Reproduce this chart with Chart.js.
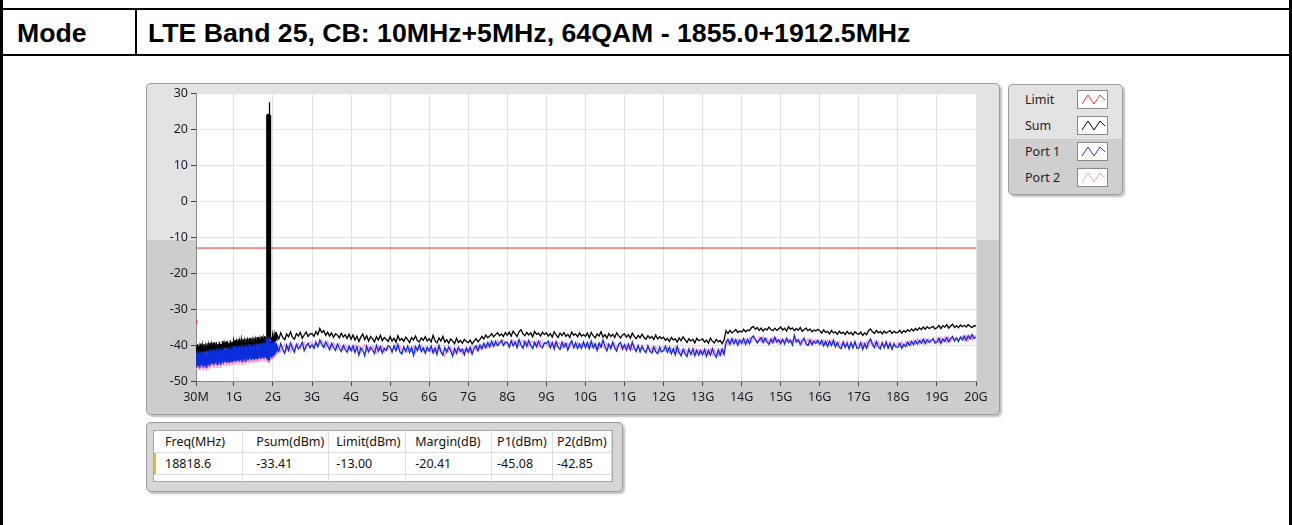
<!DOCTYPE html>
<html>
<head>
<meta charset="utf-8">
<script src="https://cdn.jsdelivr.net/npm/chart.js@4.4.1/dist/chart.umd.min.js"></script>
<style>
  body { margin: 0; width: 1292px; height: 525px; background: #fff; position: relative; overflow: hidden; font-family: "Noto Sans", sans-serif; }
  .line { position: absolute; background: #000; }
  .hdr { position: absolute; font-family: "Liberation Sans", Arial, sans-serif; font-weight: bold; font-size: 26.67px; line-height: 1; color: #000; }
  #panel { position: absolute; left: 146px; top: 83px; width: 854px; height: 332px; border-radius: 5px;
           background: linear-gradient(#e3e3e3 0, #e3e3e3 157px, #cdcdcd 157px, #cdcdcd 100%);
           box-shadow: inset 0 0 0 1px #9c9c9c, 2px 2px 2px rgba(0,0,0,0.25); }
  #panel canvas { position: absolute; left: 0; top: 0; }
  #legend { position: absolute; left: 1008px; top: 84px; width: 115px; height: 111px; border-radius: 5px;
            background: linear-gradient(#e3e3e3 0, #e3e3e3 55px, #cfcfcf 55px, #cfcfcf 100%);
            box-shadow: inset 0 0 0 1px #9c9c9c, 2px 2px 2px rgba(0,0,0,0.25); }
  .lg { position: absolute; left: 17px; font-size: 12.5px; line-height: 16px; color: #222; }
  .sw { position: absolute; left: 69px; width: 31px; height: 19px; background: #fff; border: 1px solid #8a8a8a; box-sizing: border-box; }
  #tpanel { position: absolute; left: 146px; top: 422px; width: 477px; height: 70px; border-radius: 5px; background: #d6d6d6;
            box-shadow: inset 0 0 0 1px #9c9c9c, 2px 2px 2px rgba(0,0,0,0.25); }
  #tbl { position: absolute; left: 7px; top: 8px; width: 460px; height: 52px; background: #fff; border: 1px solid #a8a8a8; box-sizing: border-box; overflow: hidden; }
  #tbl table { border-collapse: collapse; table-layout: fixed; font-size: 12.5px; color: #111; }
  #tbl td { border-right: 1px solid #ddd; border-bottom: 1px solid #ddd; height: 21px; padding: 0; white-space: nowrap; overflow: hidden; }
</style>
</head>
<body>
<!-- frame of the report table -->
<div class="line" style="left:0;top:0;width:3px;height:525px"></div>
<div class="line" style="left:1289px;top:0;width:3px;height:525px"></div>
<div class="line" style="left:0;top:8px;width:1292px;height:2px"></div>
<div class="line" style="left:0;top:54px;width:1292px;height:2px"></div>
<div class="line" style="left:135px;top:8px;width:2px;height:48px"></div>
<div class="hdr" style="left:17px;top:20px">Mode</div>
<div class="hdr" style="left:148px;top:20px">LTE Band 25, CB: 10MHz+5MHz, 64QAM - 1855.0+1912.5MHz</div>

<div id="panel"><canvas id="myChart" width="854" height="332"></canvas></div>

<div id="legend">
  <div class="lg" style="top:8px">Limit</div>
  <div class="sw" style="top:6px"><svg width="29" height="17"><polyline points="4,13 10,4 16,13 22,4 27,9" fill="none" stroke="#ff3030" stroke-width="1"/></svg></div>
  <div class="lg" style="top:34px">Sum</div>
  <div class="sw" style="top:32px"><svg width="29" height="17"><polyline points="4,13 10,4 16,13 22,4 27,9" fill="none" stroke="#000" stroke-width="1"/></svg></div>
  <div class="lg" style="top:60px">Port 1</div>
  <div class="sw" style="top:58px"><svg width="29" height="17"><polyline points="4,13 10,4 16,13 22,4 27,9" fill="none" stroke="#1040e0" stroke-width="1"/></svg></div>
  <div class="lg" style="top:86px">Port 2</div>
  <div class="sw" style="top:84px"><svg width="29" height="17"><polyline points="4,13 10,4 16,13 22,4 27,9" fill="none" stroke="#ff9cc8" stroke-width="1"/></svg></div>
</div>

<div id="tpanel">
  <div id="tbl">
    <table>
      <colgroup><col style="width:89px"><col style="width:86px"><col style="width:77px"><col style="width:86px"><col style="width:61px"><col style="width:59px"></colgroup>
      <tr><td style="padding-left:11px">Freq(MHz)</td><td style="padding-left:13px">Psum(dBm)</td><td style="padding-left:7px">Limit(dBm)</td><td style="padding-left:9px">Margin(dB)</td><td style="padding-left:5px">P1(dBm)</td><td style="padding-left:4px">P2(dBm)</td></tr>
      <tr><td style="padding-left:11px;box-shadow: inset 2px 0 0 #e8b830">18818.6</td><td style="padding-left:13px">-33.41</td><td style="padding-left:7px">-13.00</td><td style="padding-left:9px">-20.41</td><td style="padding-left:5px">-45.08</td><td style="padding-left:4px">-42.85</td></tr>
      <tr><td></td><td></td><td></td><td></td><td></td><td></td></tr>
    </table>
  </div>
</div>

<script>
// x axis ticks (MHz)
const xTickValues = [30, 1000, 2000, 3000, 4000, 5000, 6000, 7000, 8000, 9000, 10000,
                     11000, 12000, 13000, 14000, 15000, 16000, 17000, 18000, 19000, 20000];
const yTickMin = -50, yTickMax = 30;

// sweep segments (MHz): low band, carrier zoom, rest of low band, upper band
const sweepLow  = { start: 30,   step: 20 };   // 30..1830
const sweepCar  = { start: 1840, step: 5 };    // 1840..1940
const sweepLow2 = { start: 1950, step: 20 };   // 1950..2090
const sweepHigh = { start: 2100, step: 50 };   // 2100..20000

const limitFreq = [30, 20000];
const limitVals = [-13, -13];
const markerFreq = [30];
const markerVals = [-33.5];

// Sum (dBm)
const sumLow = [
  -40.2,-42.6,-39.8,-42.1,-40.5,-42.4,-39.6,-41.9,-40.1,-42.3,
  -39.7,-42.0,-40.3,-41.8,-39.5,-42.2,-40.0,-41.6,-39.4,-41.9,
  -39.9,-41.5,-39.3,-41.8,-40.1,-41.4,-39.2,-41.7,-39.8,-41.3,
  -39.1,-41.6,-39.7,-41.2,-38.9,-41.5,-39.5,-41.0,-39.0,-41.4,
  -38.8,-41.1,-39.4,-40.9,-38.7,-41.3,-39.2,-40.8,-38.9,-41.0,
  -38.6,-40.9,-39.1,-40.6,-38.4,-40.8,-38.9,-40.5,-38.5,-40.7,
  -38.3,-40.4,-38.8,-40.6,-38.2,-40.3,-38.7,-40.2,-38.1,-40.5,
  -38.0,-40.1,-38.6,-40.3,-37.9,-40.0,-38.4,-39.9,-37.8,-40.2,
  -37.7,-39.8,-38.3,-40.0,-37.6,-39.7,-38.1,-39.9,-37.5,-39.6,
  -38.0
];
const sumCar = [-37.8,24.1,-37.9,24.3,-38.1,24.2,-37.6,24.0,-38.2,24.4,-37.9,24.1,-38.0,27.4,27.6,-37.7,24.2,-38.3,24.0,-38.1,-37.5];
const sumLow2 = [-37.6,-39.5,-37.3,-39.4,-37.2,-39.3,-36.4,-38.6];
const sumHigh = [
  -37.0,-38.3,-36.6,-37.9,-38.5,-36.9,-37.7,-36.3,-37.8,-38.4,-36.8,-37.5,-36.5,-38.1,-37.2,-36.4,-37.6,-36.9,
  -36.8,-37.6,-36.2,-37.1,-35.4,-36.5,-36.0,-37.3,-36.4,-37.5,-36.6,-37.9,-36.9,-37.2,-38.0,-36.7,-37.8,-37.1,-38.2,-37.0,
  -38.4,-37.2,-38.6,-37.5,-39.0,-37.8,-36.9,-38.5,-37.4,-38.9,-37.6,-38.3,-39.1,-37.7,-38.6,-37.3,-38.8,-37.9,-38.4,-39.0,
  -37.6,-38.9,-38.1,-39.2,-37.4,-38.7,-38.2,-39.0,-37.8,-38.5,-39.3,-37.9,-38.6,-37.5,-38.8,-39.1,-38.0,-38.7,-37.7,-38.9,
  -38.2,-39.1,-37.3,-38.8,-39.4,-38.0,-38.9,-37.6,-39.2,-38.5,-39.5,-38.3,-38.9,-39.6,-38.1,-39.3,-38.7,-39.5,-38.4,-39.0,
  -39.3,-38.6,-39.7,-38.9,-38.2,-39.1,-38.4,-37.6,-38.3,-37.2,-38.0,-37.5,-36.8,-37.7,-37.1,-36.6,-37.4,-36.9,-37.6,-36.5,
  -37.3,-36.4,-37.5,-36.1,-36.9,-37.6,-36.3,-35.7,-36.8,-37.4,-36.5,-37.2,-36.6,-37.7,-36.2,-37.0,-36.7,-37.5,-36.4,-37.1,
  -36.6,-37.5,-36.8,-37.8,-36.3,-37.2,-37.9,-36.7,-37.4,-36.5,-37.6,-37.0,-37.9,-36.4,-37.3,-36.9,-37.7,-36.6,-37.5,-37.1,
  -37.6,-36.7,-37.9,-36.5,-37.4,-38.0,-36.9,-37.5,-36.3,-37.8,-37.1,-38.1,-36.8,-37.6,-37.0,-37.9,-36.6,-37.4,-38.0,-37.2,
  -36.9,-37.8,-37.1,-38.1,-36.7,-37.6,-38.2,-37.3,-38.0,-37.0,-37.9,-38.4,-37.4,-38.1,-37.6,-38.5,-37.2,-38.3,-37.7,-38.2,
  -37.8,-38.7,-38.1,-39.0,-37.9,-38.6,-38.3,-39.2,-38.0,-38.8,-37.7,-38.5,-39.3,-38.2,-38.9,-38.4,-39.4,-38.1,-38.8,-38.6,
  -38.3,-39.2,-38.6,-39.5,-38.1,-38.9,-39.4,-38.4,-39.1,-38.7,-39.6,-38.5,-36.0,-36.8,-35.9,-36.6,-36.2,-35.7,-36.5,-36.1,
  -36.4,-35.6,-36.3,-35.8,-36.0,-35.2,-34.8,-35.6,-35.1,-35.9,-35.3,-36.1,-35.4,-35.8,-35.0,-35.7,-36.0,-35.3,-35.9,-35.5,
  -35.0,-35.8,-35.3,-36.1,-34.9,-35.6,-35.2,-36.0,-35.4,-35.9,-35.1,-36.2,-35.7,-35.3,-36.0,-35.5,-36.3,-35.8,-36.1,-35.6,
  -36.0,-36.7,-35.8,-36.5,-36.2,-36.9,-35.9,-36.6,-36.3,-37.0,-36.1,-36.8,-36.4,-37.1,-36.2,-36.9,-36.5,-37.2,-36.3,-36.8,
  -37.0,-36.4,-37.3,-36.6,-37.1,-36.0,-35.5,-36.3,-36.8,-35.9,-36.6,-36.2,-36.9,-36.1,-36.7,-36.3,-36.0,-36.8,-36.2,-36.6,
  -36.5,-35.9,-36.7,-36.0,-36.4,-35.7,-36.2,-35.5,-36.1,-35.4,-35.9,-35.2,-35.7,-35.0,-35.6,-34.9,-35.4,-35.1,-34.8,-35.5,
  -35.2,-34.5,-35.4,-34.6,-35.0,-34.3,-35.3,-34.7,-34.2,-35.1,-34.6,-35.2,-34.4,-34.9,-34.5,-35.0,-34.3,-34.8,-35.1,-34.6,
  -34.7
];

// Port 1 (dBm)
const p1Low = [
  -42.0,-46.3,-41.6,-45.8,-42.3,-46.5,-41.8,-45.6,-42.1,-46.0,
  -41.5,-45.7,-42.0,-46.1,-41.3,-45.4,-41.9,-45.9,-41.2,-45.5,
  -41.7,-45.2,-41.1,-45.6,-41.6,-45.0,-40.9,-45.4,-41.4,-44.9,
  -40.8,-45.3,-41.3,-44.8,-40.7,-45.1,-41.2,-44.7,-40.6,-45.0,
  -40.5,-44.6,-41.0,-44.9,-40.4,-44.5,-40.9,-44.8,-40.3,-44.4,
  -40.2,-44.7,-40.8,-44.3,-40.1,-44.6,-40.6,-44.2,-39.9,-44.5,
  -40.0,-44.1,-40.5,-44.4,-39.8,-44.0,-40.3,-44.3,-39.7,-43.9,
  -39.9,-44.2,-40.2,-43.8,-39.6,-44.1,-40.0,-43.7,-39.5,-44.0,
  -39.7,-43.6,-39.4,-43.9,-39.8,-43.5,-39.3,-43.8,-39.6,-43.4,
  -38.2
];
const p1Car = [-39.5,-43.8,-38.4,-43.2,-37.9,-44.0,-38.6,-43.5,-38.1,-43.9,-39.0,-43.3,-37.8,-44.2,-38.7,-43.6,-39.2,-43.0,-38.9,-42.7,-39.3];
const p1Low2 = [-39.2,-43.6,-39.0,-43.2,-39.1,-42.8,-39.6,-41.9];
const p1High = [
  -40.1,-41.8,-39.6,-41.2,-42.3,-40.0,-41.5,-39.4,-40.9,-42.0,-39.8,-41.1,-40.4,-39.2,-41.6,-40.2,-39.5,-40.8,
  -39.9,-40.9,-39.3,-40.5,-38.6,-39.8,-40.7,-39.1,-40.2,-41.3,-39.5,-40.6,-41.5,-39.7,-40.9,-41.8,-40.1,-41.2,-42.0,-40.3,
  -41.6,-40.2,-42.1,-40.5,-42.8,-40.8,-41.4,-43.0,-40.3,-41.9,-40.6,-41.3,-42.4,-40.1,-41.7,-40.4,-42.2,-40.9,-41.5,-40.2,
  -40.5,-42.0,-40.2,-41.6,-39.8,-41.9,-42.5,-40.6,-41.8,-40.3,-42.1,-40.7,-42.9,-40.4,-41.5,-39.9,-41.8,-40.8,-42.3,-40.6,
  -41.7,-40.3,-42.2,-40.8,-42.6,-40.1,-41.9,-42.8,-40.7,-42.0,-40.5,-41.6,-43.1,-40.9,-42.3,-40.6,-41.8,-41.1,-42.7,-40.8,
  -42.0,-40.6,-42.5,-40.9,-40.2,-41.6,-40.0,-41.1,-39.5,-40.8,-39.3,-40.5,-38.9,-40.4,-39.0,-40.2,-39.4,-38.7,-40.1,-39.2,
  -39.3,-40.6,-38.8,-40.2,-39.1,-40.7,-38.5,-39.9,-40.9,-39.0,-40.4,-38.7,-40.1,-41.0,-39.2,-40.5,-38.9,-40.3,-40.8,-39.4,
  -39.6,-38.9,-40.8,-39.3,-41.1,-39.0,-40.5,-41.2,-39.2,-40.6,-39.5,-41.4,-39.8,-38.8,-40.7,-39.4,-41.0,-39.7,-40.9,-39.1,
  -40.7,-39.3,-41.0,-38.9,-40.8,-39.6,-41.5,-39.4,-40.6,-38.6,-40.3,-41.6,-39.7,-40.9,-39.2,-40.8,-41.7,-39.8,-39.3,-41.2,
  -39.9,-41.4,-39.7,-41.3,-39.2,-40.9,-41.8,-40.1,-41.9,-40.4,-41.5,-42.1,-40.2,-41.6,-42.2,-40.5,-41.8,-42.4,-40.6,-41.9,
  -41.5,-40.3,-42.0,-40.6,-42.4,-41.0,-42.7,-40.4,-42.1,-43.0,-41.1,-42.3,-43.2,-41.2,-42.6,-41.0,-43.0,-41.4,-42.8,-41.5,
  -42.7,-41.2,-43.1,-41.5,-42.8,-41.0,-42.5,-43.4,-41.3,-42.9,-41.1,-42.6,-39.4,-38.4,-39.8,-38.2,-39.6,-38.5,-40.0,-38.6,
  -39.5,-38.2,-39.8,-38.4,-39.6,-38.0,-37.5,-38.3,-39.4,-38.6,-37.9,-39.3,-38.1,-39.1,-39.8,-38.3,-39.4,-37.8,-39.2,-38.5,
  -39.6,-38.4,-39.7,-38.1,-39.3,-38.6,-40.0,-37.3,-39.2,-38.5,-39.9,-38.8,-38.2,-39.7,-40.1,-38.6,-39.9,-38.9,-39.5,-38.7,
  -39.8,-38.7,-40.2,-39.0,-40.4,-38.9,-40.1,-38.6,-40.5,-39.3,-40.6,-41.0,-39.2,-40.7,-39.5,-41.1,-39.4,-40.8,-39.1,-40.9,
  -40.8,-39.3,-41.2,-39.6,-40.9,-39.1,-38.3,-39.8,-40.7,-39.0,-40.5,-41.1,-39.4,-40.8,-39.2,-40.9,-39.6,-41.2,-39.7,-40.6,
  -40.6,-39.5,-40.9,-39.8,-40.4,-39.2,-40.1,-39.0,-39.9,-38.8,-39.7,-38.7,-39.5,-38.4,-39.6,-38.5,-39.3,-38.7,-38.3,-39.4,
  -39.2,-38.1,-39.5,-38.3,-39.0,-37.9,-39.1,-38.2,-37.6,-38.9,-38.0,-39.0,-37.8,-38.6,-37.5,-38.7,-37.4,-38.3,-37.1,-38.2,
  -37.8
];

// Port 2 (dBm)
const p2Low = [
  -42.5,-46.9,-42.1,-46.6,-42.8,-47.0,-42.3,-46.4,-42.6,-46.8,
  -42.0,-46.5,-42.4,-46.9,-41.8,-46.2,-42.3,-46.7,-41.7,-46.3,
  -42.1,-46.0,-41.6,-46.4,-42.0,-45.8,-41.4,-46.2,-41.9,-45.7,
  -41.3,-46.1,-41.8,-45.6,-41.2,-45.9,-41.6,-45.5,-41.1,-45.8,
  -41.0,-45.4,-41.5,-45.7,-40.9,-45.3,-41.3,-45.6,-40.8,-45.2,
  -40.7,-45.5,-41.2,-45.1,-40.6,-45.4,-41.0,-45.0,-40.4,-45.3,
  -40.5,-44.9,-40.9,-45.2,-40.3,-44.8,-40.7,-45.1,-40.2,-44.7,
  -40.3,-45.0,-40.6,-44.6,-40.1,-44.9,-40.4,-44.5,-40.0,-44.8,
  -40.2,-44.4,-39.9,-44.7,-40.3,-44.3,-39.8,-44.6,-40.1,-44.2,
  -39.2
];
const p2Car = [-40.1,-44.5,-39.2,-44.0,-39.6,-44.7,-39.0,-44.2,-39.5,-44.6,-39.8,-44.1,-39.3,-44.8,-39.7,-44.3,-40.0,-43.9,-39.6,-43.6,-39.9];
const p2Low2 = [-39.8,-44.1,-39.6,-43.9,-39.7,-43.5,-40.1,-42.6];
const p2High = [
  -41.3,-40.1,-41.9,-40.6,-39.7,-41.5,-40.3,-42.0,-39.9,-41.1,-40.2,-39.5,-41.0,-40.0,-39.3,-40.9,-39.8,-39.4,
  -39.2,-40.6,-38.8,-40.1,-39.5,-38.6,-39.9,-40.8,-39.0,-40.3,-41.0,-39.4,-40.5,-41.2,-39.6,-40.7,-41.4,-39.8,-40.9,-41.5,
  -40.4,-41.7,-40.0,-41.2,-40.3,-42.0,-40.6,-39.9,-41.8,-40.5,-41.4,-40.1,-41.1,-42.2,-40.4,-41.6,-40.2,-41.9,-40.7,-41.3,
  -40.6,-41.5,-40.8,-39.9,-41.3,-40.4,-41.9,-40.2,-41.1,-42.0,-40.5,-41.7,-40.3,-42.2,-40.7,-41.4,-40.1,-41.8,-40.6,-41.6,
  -40.7,-41.9,-40.9,-42.1,-40.5,-41.6,-40.8,-42.2,-43.2,-41.0,-41.9,-40.6,-41.8,-42.4,-40.9,-42.0,-41.1,-42.5,-41.2,-41.8,
  -41.0,-42.1,-40.7,-40.3,-41.6,-40.1,-41.2,-39.8,-40.9,-39.6,-40.8,-39.2,-40.5,-39.0,-40.3,-38.7,-39.9,-39.3,-38.6,-39.8,
  -39.1,-40.2,-39.4,-38.6,-39.9,-38.9,-40.3,-39.2,-38.7,-40.1,-39.0,-40.4,-39.3,-38.9,-40.2,-39.1,-40.5,-38.8,-40.0,-39.3,
  -39.5,-40.4,-39.1,-40.2,-39.4,-40.6,-39.3,-39.7,-40.8,-39.2,-40.5,-39.4,-40.7,-39.6,-40.3,-40.9,-39.2,-40.6,-39.5,-40.4,
  -39.7,-40.8,-39.4,-40.6,-39.3,-41.0,-39.8,-41.1,-39.5,-40.4,-41.0,-39.6,-40.7,-41.3,-39.9,-39.5,-40.9,-39.7,-40.8,-40.1,
  -40.9,-39.8,-41.2,-40.0,-41.3,-40.1,-41.4,-40.2,-41.6,-39.9,-41.1,-41.7,-40.3,-41.8,-40.6,-41.9,-40.5,-41.5,-42.0,-40.6,
  -40.6,-41.8,-40.7,-42.1,-40.8,-42.0,-40.6,-42.3,-40.9,-42.1,-42.5,-41.0,-42.2,-40.8,-42.4,-42.6,-41.1,-42.5,-41.2,-42.6,
  -41.4,-42.6,-41.2,-42.5,-41.1,-42.8,-41.3,-42.4,-43.0,-41.2,-42.7,-41.0,-38.6,-39.8,-38.4,-39.6,-38.1,-39.5,-38.3,-39.7,
  -38.5,-39.6,-38.2,-39.4,-37.9,-39.3,-37.4,-38.9,-39.3,-37.8,-39.2,-37.7,-39.3,-38.0,-39.1,-39.5,-37.9,-39.2,-38.1,-39.5,
  -38.3,-39.0,-38.5,-39.1,-38.2,-39.3,-38.6,-39.0,-38.4,-39.2,-38.7,-39.6,-37.9,-39.5,-38.3,-39.7,-38.5,-39.8,-38.4,-39.6,
  -38.8,-40.0,-38.7,-39.9,-38.6,-40.1,-38.8,-40.0,-38.9,-40.3,-39.0,-40.4,-39.1,-40.2,-38.9,-40.5,-39.2,-40.3,-39.0,-40.4,
  -39.4,-40.6,-39.2,-40.5,-39.1,-40.4,-38.7,-40.2,-39.0,-40.3,-39.1,-40.5,-39.2,-40.3,-38.9,-40.4,-39.1,-40.6,-39.3,-40.4,
  -39.3,-40.5,-39.1,-40.4,-39.0,-40.3,-38.8,-40.1,-38.6,-39.9,-38.4,-39.8,-38.2,-39.6,-38.1,-39.5,-38.2,-39.4,-38.0,-39.3,
  -38.1,-39.4,-37.9,-39.2,-37.8,-39.3,-37.7,-39.1,-37.9,-38.6,-38.0,-38.7,-38.1,-37.5,-38.9,-37.4,-38.8,-37.2,-38.6,-37.3,
  -37.9
];

// pair each segment's sweep frequencies with its values
function trace(parts) {
    let pts = [];
    parts.forEach(([sweep, vals]) => {
        for (let i = 0; i < vals.length; i++) pts.push({ x: sweep.start + sweep.step * i, y: vals[i] });
    });
    return pts;
}
function pairs(xs, ys) {
    return xs.map((x, i) => ({ x: x, y: ys[i] }));
}

// white plot area on the grey panel
const plotBg = {
    id: 'plotBg',
    beforeDraw(chart) {
        const { ctx, chartArea: a } = chart;
        ctx.save();
        ctx.fillStyle = '#ffffff';
        ctx.fillRect(a.left, a.top, a.right - a.left, a.bottom - a.top);
        ctx.restore();
    }
};

const tickFont = { family: 'Noto Sans', size: 12.5 };

new Chart(document.getElementById('myChart').getContext('2d'), {
    type: 'line',
    data: {
        datasets: [
            { label: 'Limit', data: pairs(limitFreq, limitVals), borderColor: 'rgb(235,40,40)', borderWidth: 1, pointRadius: 0, order: 4 },
            { label: 'Port 2', data: trace([[sweepLow, p2Low], [sweepCar, p2Car], [sweepLow2, p2Low2], [sweepHigh, p2High]]),
              borderColor: 'rgb(255,150,200)', borderWidth: 1.3, pointRadius: 0, order: 3 },
            { label: 'Sum', data: trace([[sweepLow, sumLow], [sweepCar, sumCar], [sweepLow2, sumLow2], [sweepHigh, sumHigh]]),
              borderColor: '#000000', borderWidth: 1.3, pointRadius: 0, order: 2 },
            { label: 'Port 1', data: trace([[sweepLow, p1Low], [sweepCar, p1Car], [sweepLow2, p1Low2], [sweepHigh, p1High]]),
              borderColor: 'rgb(10,45,220)', borderWidth: 1.3, pointRadius: 0, order: 1 },
            { label: 'marker', data: pairs(markerFreq, markerVals), showLine: false, pointRadius: 1.5, pointBackgroundColor: 'rgb(235,40,40)', pointBorderWidth: 0, order: 0 }
        ]
    },
    options: {
        responsive: false,
        animation: false,
        parsing: false,
        layout: { padding: { top: 10, right: 24, left: 0, bottom: 0 } },
        plugins: { legend: { display: false }, tooltip: { enabled: false } },
        scales: {
            x: {
                type: 'linear',
                min: 30,
                max: 20000,
                afterBuildTicks: axis => { axis.ticks = xTickValues.map(v => ({ value: v })); },
                afterFit: axis => { axis.height = 34; },
                ticks: {
                    font: tickFont, color: '#1a1a2a', padding: 4, maxRotation: 0, autoSkip: false,
                    callback: v => v < 1000 ? v + 'M' : (v / 1000) + 'G'
                },
                grid: { color: '#e2e2e2', tickColor: '#444', tickLength: 5 },
                border: { color: '#8a8a8a' }
            },
            y: {
                min: yTickMin,
                max: yTickMax,
                afterFit: axis => { axis.width = 50; },
                ticks: { stepSize: 10, font: tickFont, color: '#1a1a2a', padding: 3 },
                grid: { color: '#e2e2e2', tickColor: '#444', tickLength: 5 },
                border: { color: '#8a8a8a' }
            }
        }
    },
    plugins: [plotBg]
});
</script>
</body>
</html>
